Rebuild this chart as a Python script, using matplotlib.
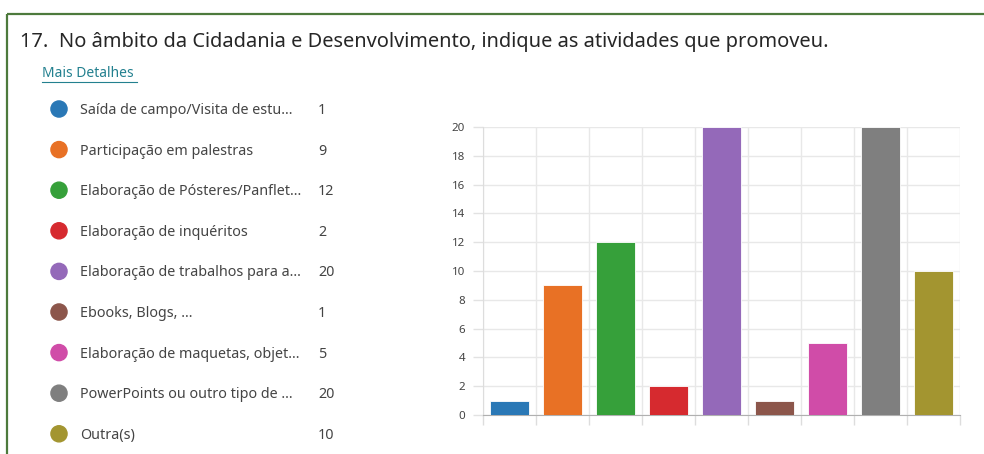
import numpy as np
import matplotlib.pyplot as plt
from matplotlib.patches import Rectangle

plt.rcParams['font.family'] = ['Noto Sans', 'DejaVu Sans']

title = "17.  No âmbito da Cidadania e Desenvolvimento, indique as atividades que promoveu."
labels = ["Saída de campo/Visita de estu...", "Participação em palestras",
          "Elaboração de Pósteres/Panflet...", "Elaboração de inquéritos",
          "Elaboração de trabalhos para a...", "Ebooks, Blogs, ...",
          "Elaboração de maquetas, objet...", "PowerPoints ou outro tipo de ...",
          "Outra(s)"]
counts = [1, 9, 12, 2, 20, 1, 5, 20, 10]
colors = ["#2a78b6", "#e87125", "#36a03a", "#d62a2f", "#9469b9",
          "#8c564b", "#d04ca8", "#7f7f7f", "#a39530"]

W, H = 984, 454
fig = plt.figure(figsize=(W / 100, H / 100), dpi=100)

# overlay in pixel coordinates for the frame, title and legend
ov = fig.add_axes([0, 0, 1, 1])
ov.set_xlim(0, W)
ov.set_ylim(H, 0)
ov.axis('off')
ov.add_patch(Rectangle((7, 14), 990, 460, fill=False, edgecolor="#4d7a3c", lw=1.6))
ov.text(20, 41.5, title, fontsize=14.4, color="#262626", va='center', ha='left')
ov.text(42, 73.5, "Mais Detalhes", fontsize=10, color="#23808f", va='center', ha='left')
ov.plot([42, 137], [81.5, 81.5], color="#23808f", lw=0.8)

row_y = 109 + 40.6 * np.arange(len(labels))
ov.scatter(np.full(len(labels), 59), row_y, s=135, c=colors, zorder=3)
for y, lab, n in zip(row_y, labels, counts):
    ov.text(80, y + 1.5, lab, fontsize=10.3, color="#444444", va='center', ha='left')
    ov.text(318, y + 1.5, str(n), fontsize=10.3, color="#444444", va='center', ha='left')

# bar chart
ax = fig.add_axes([483 / W, 39 / H, 477 / W, 288 / H])
x = np.arange(len(counts))
ax.bar(x, counts, width=0.72, color=colors, edgecolor='white', linewidth=0.6, zorder=3)
ax.set_xlim(-0.5, len(counts) - 0.5)
ax.set_ylim(0, 20)
ax.set_yticks(np.arange(0, 21, 2))
ax.set_xticks(np.arange(len(counts) + 1) - 0.5)
ax.set_xticklabels([])
ax.tick_params(axis='x', length=7, color="#dddddd", width=1)
ax.tick_params(axis='y', length=7, width=1, color="#e2e2e2", pad=6,
               labelsize=8.3, labelcolor="#444444")
ax.grid(True, color="#e8e8e8", lw=1, zorder=0)
for s in ['top', 'right']:
    ax.spines[s].set_visible(False)
ax.spines['left'].set_color("#dddddd")
ax.spines['bottom'].set_color("#b0b0b0")

fig.savefig("out.png", dpi=100)
